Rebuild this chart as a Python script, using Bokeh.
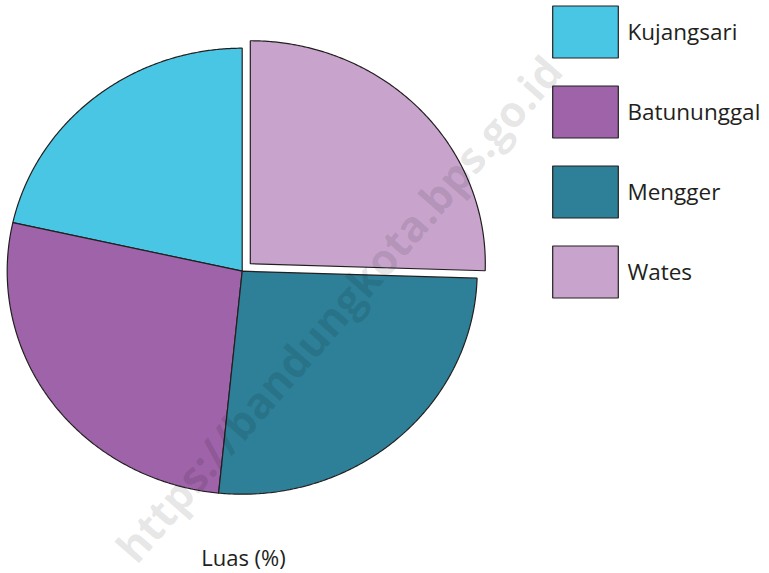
import numpy as np
from bokeh.plotting import figure
from bokeh.models import ColumnDataSource, Range1d, Legend, LegendItem, Label
from bokeh.embed import file_html
from bokeh.resources import INLINE

# ---- data ----
categories = ["Kujangsari", "Batununggal", "Mengger", "Wates"]
luas_pct = [21.5, 26.9, 26.1, 25.5]
colors = ["#4AC6E5", "#9E63A8", "#2E7F98", "#C8A4CD"]
explode = [0.0, 0.0, 0.0, 0.048]
title_text = "Luas (%)"
watermark = "https://bandungkota.bps.go.id"

W, H = 769, 573
cx_px, cy_px = 241.7, 270.7   # pie centre (px from top-left)
rx_px, ry_px = 235.0, 223.0   # pixels per unit radius

p = figure(width=W, height=H, output_backend="svg", toolbar_location=None,
           min_border=0, outline_line_color=None,
           x_range=Range1d(-cx_px / rx_px, (W - cx_px) / rx_px),
           y_range=Range1d(-(H - cy_px) / ry_px, cy_px / ry_px))
p.margin = (0, 0, 0, 0)
p.axis.visible = False
p.grid.visible = False
p.background_fill_color = "white"
p.border_fill_color = "white"

total = float(sum(luas_pct))
xs, ys = [], []
cum = 0.0
for v, ex in zip(luas_pct, explode):
    a0 = np.pi / 2 + 2 * np.pi * cum / total
    cum += v
    a1 = np.pi / 2 + 2 * np.pi * cum / total
    mid = (a0 + a1) / 2
    ox, oy = ex * np.cos(mid), ex * np.sin(mid)
    t = np.linspace(a0, a1, 200)
    xs.append(list(np.concatenate([[ox], ox + np.cos(t), [ox]])))
    ys.append(list(np.concatenate([[oy], oy + np.sin(t), [oy]])))

src = ColumnDataSource(dict(xs=xs, ys=ys, color=colors, name=categories))
r = p.patches("xs", "ys", source=src, fill_color="color", line_color="#231F20",
              line_width=1.2)

# legend glyphs are drawn inset by 10% of the glyph box
gw, gh = 66 / 0.8, 52 / 0.8
legend = Legend(items=[LegendItem(label=c, renderers=[r], index=i) for i, c in enumerate(categories)],
                location=(552.7 - 0.1 * gw, H - 297.7 - 0.1 * gh), orientation="vertical",
                glyph_width=int(round(gw)), glyph_height=int(round(gh)), spacing=15,
                padding=0, margin=0, label_standoff=1,
                label_text_font="Open Sans", label_text_font_size="22.5px",
                label_text_color="#231F20", border_line_color=None, background_fill_alpha=0)
p.add_layout(legend, "center")

p.add_layout(Label(x=243, y=17, x_units="screen", y_units="screen", text=title_text,
                   text_align="center", text_baseline="middle", text_font="Open Sans",
                   text_font_size="22px", text_color="#231F20"))

p.add_layout(Label(x=338, y=H - 308, x_units="screen", y_units="screen", text=watermark,
                   angle=49, angle_units="deg", text_align="center", text_baseline="middle",
                   text_font="Open Sans", text_font_style="bold", text_font_size="43px",
                   text_color="black", text_alpha=0.1))

open("out.html", "w").write(file_html(p, INLINE))
